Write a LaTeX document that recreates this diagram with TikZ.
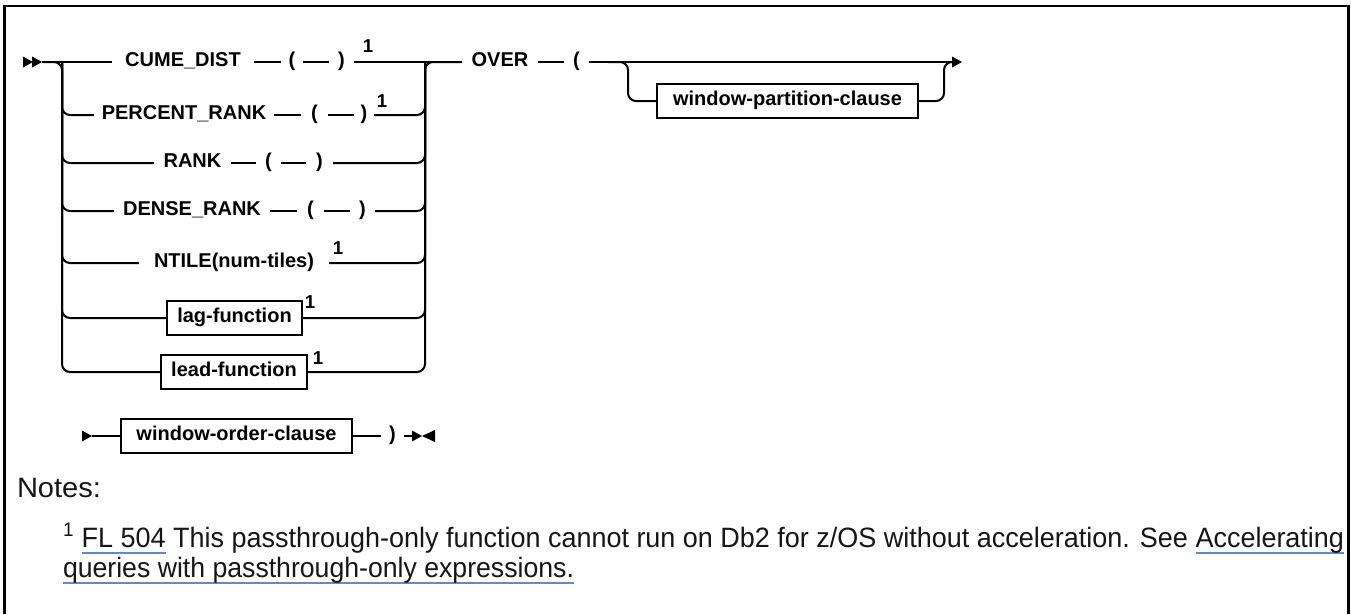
\documentclass[tikz,border=0pt]{standalone}
\usepackage{fontspec}
\usepackage{graphicx}
\setmainfont{Liberation Sans}
\newfontfamily\dfont{Liberation Sans}
\definecolor{linkblue}{RGB}{104,136,196}
\definecolor{ink}{RGB}{22,22,22}
\newcommand\mylink[1]{\setbox0=\hbox{#1}\rlap{\color{linkblue}\rule[-5pt]{\wd0}{1.5pt}}\box0\relax}
\begin{document}
\begin{tikzpicture}[x=0.75pt,y=-0.75pt,line width=1.5pt,
 kw/.style={inner xsep=0pt, inner ysep=0pt, text height=8pt, text depth=2pt, minimum width={#1*0.75pt}, font={\dfont\bfseries\fontsize{15pt}{17pt}\selectfont}},
 boxed/.style={draw, line width=1.5pt, inner xsep=0pt, inner ysep=0pt, text height=8pt, text depth=2pt, minimum height=25.5pt, minimum width={#1*0.75pt}, font={\dfont\bfseries\fontsize{15pt}{17pt}\selectfont}},
 sup/.style={inner sep=0pt, font={\dfont\bfseries\fontsize{14pt}{16pt}\selectfont}},
 rc/.style={rounded corners=6pt},
 ahead/.pic={\fill (0,-5.5) -- (10,0) -- (0,5.5) -- cycle;},
 atail/.pic={\fill (13,-6) -- (0,0) -- (13,6) -- cycle;},
 notetext/.style={anchor=base west, inner sep=0pt, text=ink}]
\useasboundingbox (0,0) rectangle (1351,614);
% frame
\draw[line width=1.65pt] (4.5,614) -- (4.5,6) -- (1348.5,6) -- (1348.5,614);

% start arrows
\coordinate (s0) at (23,62);
\coordinate (st) at (42,62);
\pic at (23,62) {ahead};
\pic at (32,62) {ahead};

% bracket coordinates
\coordinate (Ltop) at (62,62);
\coordinate (Rtop) at (425,62);

% row 1
\node[kw=140] (cume) at (183,62) {CUME\_DIST};
\node[kw=20] (c1o) at (292,62) {(};
\node[kw=23] (c1c) at (341.5,62) {)};
\node[sup] (s1) at (368,46) {1};
% row 2
\node[kw=178] (pct) at (184,115) {PERCENT\_RANK};
\node[kw=25] (c2o) at (314.5,115) {(};
\node[kw=18] (c2c) at (364,115) {)};
\node[sup] (s2) at (382,101) {1};
% row 3
\node[kw=75] (rank) at (192.5,163) {RANK};
\node[kw=23] (c3o) at (268.5,163) {(};
\node[kw=25] (c3c) at (319.5,163) {)};
% row 4
\node[kw=154] (dense) at (192,211) {DENSE\_RANK};
\node[kw=25] (c4o) at (310.5,211) {(};
\node[kw=23] (c4c) at (362.5,211) {)};
% row 5
\node[kw=188] (ntile) at (234,263) {NTILE(num-tiles)};
\node[sup] (s5) at (338,248) {1};
% row 6
\node[boxed=135] (lag) at (234.5,318) {lag-function};
\node[sup] (s6) at (310,302) {1};
% row 7
\node[boxed=146] (lead) at (234,372) {lead-function};
\node[sup] (s7) at (318,358) {1};

% OVER part
\node[kw=74] (over) at (500,62) {OVER};
\node[kw=23] (po) at (576.5,62) {(};
\node[boxed=261] (part) at (787.5,101) {window-partition-clause};
\coordinate (pA) at (608,62);
\coordinate (pB) at (628,62);
\coordinate (pC) at (944,62);
\coordinate (eA) at (952,62);
\pic at (952,62) {ahead};

% connectors row 1
\draw (st) -- (cume.west);
\draw (cume.east) -- (c1o.west);
\draw (c1o.east) -- (c1c.west);
\draw (c1c.east) -- (over.west);
% left bracket
\draw[rc] (st) -- (Ltop) -- (Ltop |- lead) -- (lead.west);
\draw[rc] (Ltop) -- (Ltop |- pct) -- (pct.west);
\draw[rc] (Ltop) -- (Ltop |- rank) -- (rank.west);
\draw[rc] (Ltop) -- (Ltop |- dense) -- (dense.west);
\draw[rc] (Ltop) -- (Ltop |- ntile) -- (ntile.west);
\draw[rc] (Ltop) -- (Ltop |- lag) -- (lag.west);
% rows
\draw (pct.east) -- (c2o.west);
\draw (c2o.east) -- (c2c.west);
\draw (rank.east) -- (c3o.west);
\draw (c3o.east) -- (c3c.west);
\draw (dense.east) -- (c4o.west);
\draw (c4o.east) -- (c4c.west);
% right bracket
\draw[rc] (lead.east) -- (Rtop |- lead) -- (Rtop) -- (over.west);
\draw[rc] (c2c.east) -- (Rtop |- c2c) -- (Rtop);
\draw[rc] (c3c.east) -- (Rtop |- c3c) -- (Rtop);
\draw[rc] (c4c.east) -- (Rtop |- c4c) -- (Rtop);
\draw[rc] (ntile.east) -- (Rtop |- ntile) -- (Rtop);
\draw[rc] (lag.east) -- (Rtop |- lag) -- (Rtop);
% OVER connectors
\draw (over.east) -- (po.west);
\draw (po.east) -- (eA);
\draw[rc] (pA) -- (pB) -- (pB |- part) -- (part.west);
\draw[rc] (part.east) -- (pC |- part) -- (pC) -- (eA);

% second line
\coordinate (t0) at (82,436);
\coordinate (t1) at (92,436);
\pic at (82,436) {ahead};
\node[boxed=231] (order) at (236.5,436) {window-order-clause};
\node[kw=21] (cp) at (392.5,436) {)};
\coordinate (e2) at (412,436);
\pic at (412,436) {ahead};
\pic at (422,436) {atail};
\draw (t1) -- (order.west);
\draw (order.east) -- (cp.west);
\draw (cp.east) -- (e2);

% notes
\node[notetext] (notes) at (16,497) {\resizebox{63pt}{\height}{\fontsize{21pt}{25pt}\selectfont Notes:}};
\node[notetext] (note1) at (62,547) {\resizebox{960.75pt}{\height}{\fontsize{21pt}{25pt}\selectfont \textsuperscript{1} \mylink{FL 504} This passthrough-only function cannot run on Db2 for z/OS without acceleration. See \mylink{Accelerating}}};
\node[notetext] (note2) at (62,577) {\resizebox{383.25pt}{\height}{\fontsize{21pt}{25pt}\selectfont \mylink{queries with passthrough-only expressions.}}};
\end{tikzpicture}
\end{document}
